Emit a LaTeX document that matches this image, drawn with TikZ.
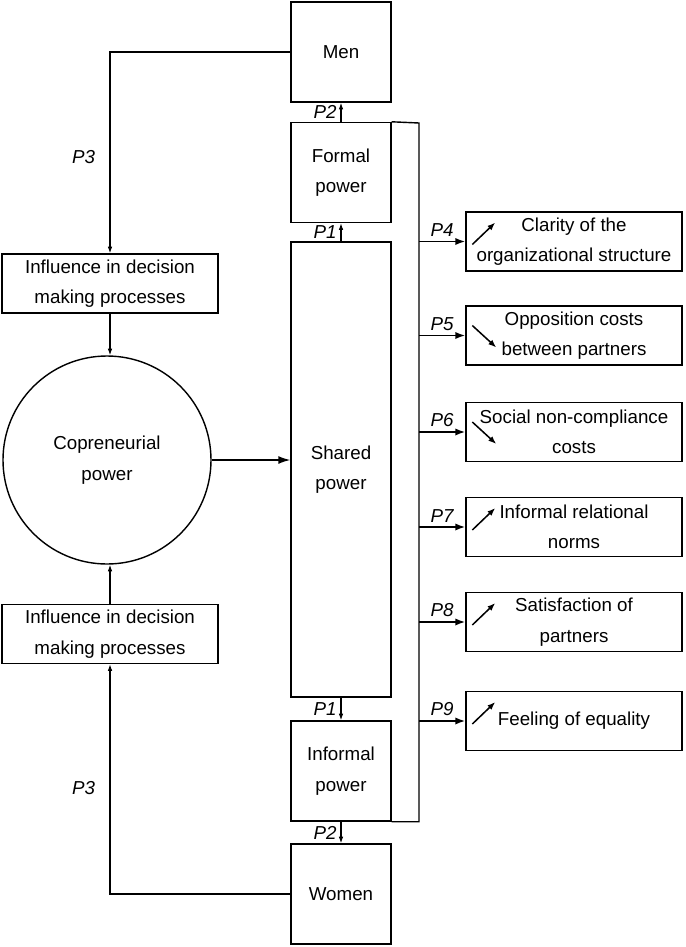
\documentclass[tikz,border=0pt]{standalone}
\usepackage{fontspec}
\setmainfont{Liberation Sans}
\usetikzlibrary{positioning}
\usetikzlibrary{arrows.meta}
\usetikzlibrary{calc}
\newcommand\colx{341}
\newcommand\outx{574}
\newcommand\busx{419}
\tikzset{
    unitbox/.style = {draw, line width=1.2pt, minimum width=30mm, minimum height=30mm, inner sep=0pt, align=center, font=\fontsize{16}{26}\selectfont},
    outbox/.style = {draw, line width=1.2pt, minimum width=64.8mm, minimum height=17.7mm, inner sep=0pt, align=center, font=\fontsize{16}{26}\selectfont},
    plab/.style = {font=\fontsize{16}{18}\selectfont\itshape},
    arr/.style = {-{Latex[length=2mm,width=1.4mm]}, line width=1pt},
    bigarr/.style = {-{Latex[length=3mm,width=2.2mm]}, line width=1.6pt},
    trend/.style = {-{Latex[length=2.4mm,width=1.8mm]}, line width=1.3pt},
}

\begin{document}
\begin{tikzpicture}[x=0.3mm, y=-0.3mm]
    \useasboundingbox (0,0) rectangle (685,947);
    % --- Central column
    \node[unitbox] (men) at (\colx,52) {Men};
    \node[unitbox] (formal) at (\colx,172.5) {Formal\\power};
    \node[unitbox, minimum height=136.5mm] (shared) at (\colx,469.5) {Shared\\power};
    \node[unitbox] (informal) at (\colx,771) {Informal\\power};
    \node[unitbox] (women) at (\colx,894) {Women};
    % --- Left side
    \node[outbox] (inftop) at (110,283.5) {Influence in decision\\making processes};
    \node[draw, circle, line width=1.2pt, minimum size=62.4mm, inner sep=0pt, align=center, font=\fontsize{16}{26}\selectfont] (cp) at (107,460) {Copreneurial\\power};
    \node[outbox] (infbot) at (110,634) {Influence in decision\\making processes};
    % --- Outcomes
    \node[outbox] (c4) at (\outx,241.5) {Clarity of the\\organizational structure};
    \node[outbox] (c5) at (\outx,335.5) {Opposition costs\\between partners};
    \node[outbox] (c6) at (\outx,432) {Social non-compliance\\costs};
    \node[outbox] (c7) at (\outx,527) {Informal relational\\norms};
    \node[outbox] (c8) at (\outx,622) {Satisfaction of\\partners};
    \node[outbox] (c9) at (\outx,721) {Feeling of equality};
    % --- P1 and P2
    \draw[arr] (formal.north) -- (men.south) node[plab, midway, left] {P2};
    \draw[arr] (shared.north) -- (formal.south) node[plab, midway, left] {P1};
    \draw[arr] (shared.south) -- (informal.north) node[plab, midway, left] {P1};
    \draw[arr] (informal.south) -- (women.north) node[plab, midway, left] {P2};
    % --- P3
    \draw[arr] (men.west) -| node[plab, pos=0.76, left=9pt] {P3} (inftop.north);
    \draw[arr] (women.west) -| node[plab, pos=0.73, left=9pt] {P3} (infbot.south);
    \draw[arr] (inftop.south) -- (inftop.south |- cp.north);
    \draw[arr] (infbot.north) -- (infbot.north |- cp.south);
    \draw[-{Latex[length=3.6mm,width=2.4mm]}, line width=1.2pt] (cp.east) -- (cp.east -| shared.west);
    % --- Bus
    \coordinate (bus) at (\busx,123);
    \draw[line width=1.2pt] (formal.north east) -- (bus) |- (informal.south east);
    \draw[bigarr] (c4.west -| bus) -- (c4.west) node[plab, midway, above] {P4};
    \draw[bigarr] (c5.west -| bus) -- (c5.west) node[plab, midway, above] {P5};
    \draw[bigarr] (c6.west -| bus) -- (c6.west) node[plab, midway, above] {P6};
    \draw[bigarr] (c7.west -| bus) -- (c7.west) node[plab, midway, above] {P7};
    \draw[bigarr] (c8.west -| bus) -- (c8.west) node[plab, midway, above] {P8};
    \draw[bigarr] (c9.west -| bus) -- (c9.west) node[plab, midway, above] {P9};
    % --- Trends
    \draw[trend] ([shift={(7,3)}]c4.west) -- ++(23,-22);
    \draw[trend] ([shift={(7,-10)}]c5.west) -- ++(24,22);
    \draw[trend] ([shift={(7,-10)}]c6.west) -- ++(24,22);
    \draw[trend] ([shift={(7,3)}]c7.west) -- ++(23,-22);
    \draw[trend] ([shift={(7,3)}]c8.west) -- ++(23,-22);
    \draw[trend] ([shift={(7,3)}]c9.west) -- ++(23,-22);
\end{tikzpicture}
\end{document}
